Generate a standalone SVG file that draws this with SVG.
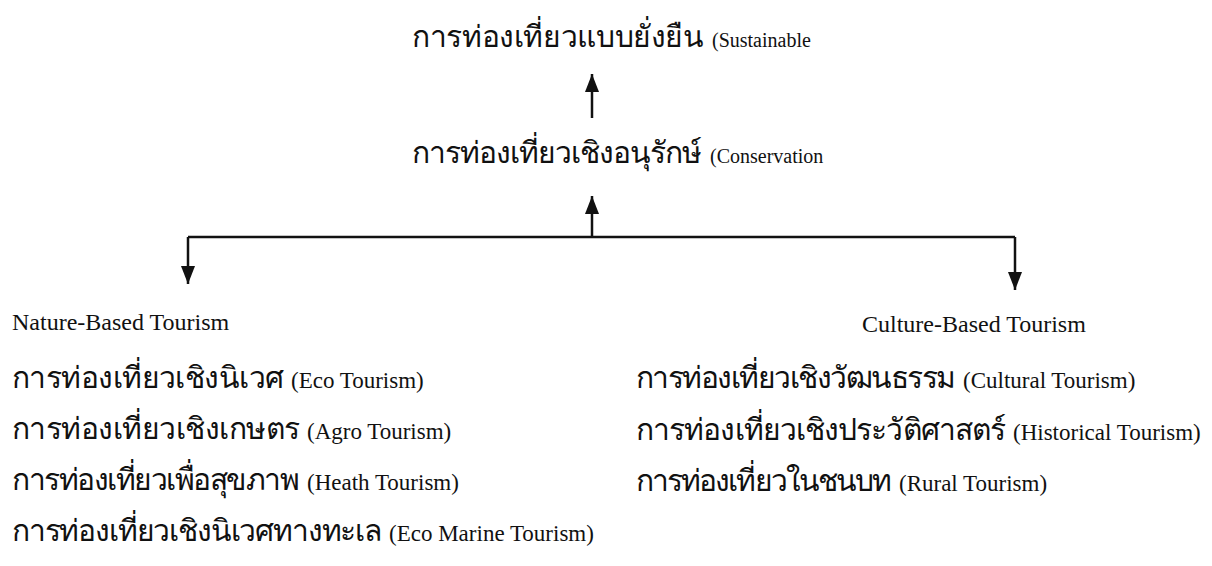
<svg xmlns="http://www.w3.org/2000/svg" width="1212" height="566" viewBox="0 0 1212 566">
<style>
.th{font-family:"Liberation Serif",serif;font-size:30px;fill:#111}
.en{font-family:"Liberation Serif",serif;font-size:23px;fill:#111}
.hd{font-family:"Liberation Serif",serif;font-size:24px;fill:#111}
.ent{font-family:"Liberation Serif",serif;font-size:20px;fill:#111}
.ln{stroke:#111;stroke-width:2.5;fill:none}
</style>
<defs>
<marker id="ah" viewBox="0 0 18 14" refX="18" refY="7" markerWidth="18" markerHeight="14" markerUnits="userSpaceOnUse" orient="auto">
<path d="M0,0 L18,7 L0,14 z" fill="#111"/>
</marker>
</defs>
<rect width="1212" height="566" fill="#fff"/>
<g id="connectors">
<path class="ln" d="M592,118 L592,74" marker-end="url(#ah)"/>
<path class="ln" d="M592,237 L592,196" marker-end="url(#ah)"/>
<path class="ln" d="M188,237 L1015,237"/>
<path class="ln" d="M188,237 L188,284" marker-end="url(#ah)"/>
<path class="ln" d="M1015,237 L1015,290" marker-end="url(#ah)"/>
</g>
<g id="sustainable">
<text class="th" x="412" y="47" textLength="292" lengthAdjust="spacing">การท่องเที่ยวแบบยั่งยืน</text>
<text class="ent" x="712" y="47">(Sustainable</text>
</g>
<g id="conservation">
<text class="th" x="412" y="163" textLength="290" lengthAdjust="spacing">การท่องเที่ยวเชิงอนุรักษ์</text>
<text class="ent" x="710" y="163">(Conservation</text>
</g>
<g id="nature">
<text class="hd" x="12" y="330">Nature-Based Tourism</text>
<text class="th" x="12" y="388" textLength="272" lengthAdjust="spacing">การท่องเที่ยวเชิงนิเวศ</text>
<text class="en" x="291" y="388">(Eco Tourism)</text>
<text class="th" x="12" y="439" textLength="288" lengthAdjust="spacing">การท่องเที่ยวเชิงเกษตร</text>
<text class="en" x="307" y="439">(Agro Tourism)</text>
<text class="th" x="12" y="490" textLength="288" lengthAdjust="spacing">การท่องเที่ยวเพื่อสุขภาพ</text>
<text class="en" x="307" y="490">(Heath Tourism)</text>
<text class="th" x="12" y="541" textLength="370" lengthAdjust="spacing">การท่องเที่ยวเชิงนิเวศทางทะเล</text>
<text class="en" x="389" y="541">(Eco Marine Tourism)</text>
</g>
<g id="culture">
<text class="hd" x="862" y="332">Culture-Based Tourism</text>
<text class="th" x="636" y="388" textLength="320" lengthAdjust="spacing">การท่องเที่ยวเชิงวัฒนธรรม</text>
<text class="en" x="963" y="388">(Cultural Tourism)</text>
<text class="th" x="636" y="440" textLength="370" lengthAdjust="spacing">การท่องเที่ยวเชิงประวัติศาสตร์</text>
<text class="en" x="1013" y="440">(Historical Tourism)</text>
<text class="th" x="636" y="491" textLength="256" lengthAdjust="spacing">การท่องเที่ยวในชนบท</text>
<text class="en" x="899" y="491">(Rural Tourism)</text>
</g>
</svg>
